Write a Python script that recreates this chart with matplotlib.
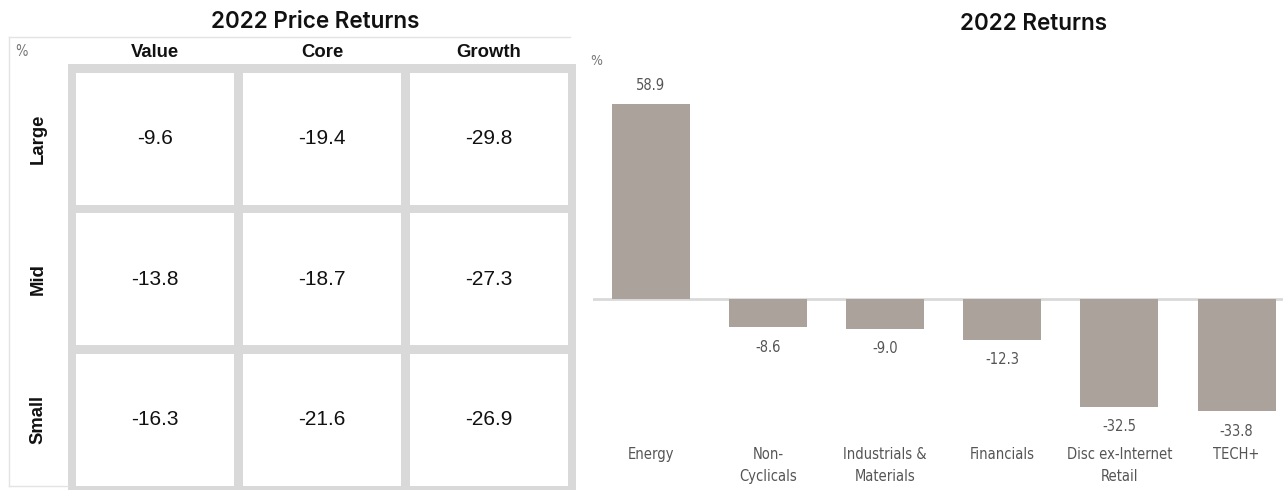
import numpy as np
import matplotlib.pyplot as plt
from matplotlib.patches import Rectangle
from matplotlib.lines import Line2D

# style box returns (rows: size, cols: style)
styles = ['Value', 'Core', 'Growth']
sizes = ['Large', 'Mid', 'Small']
box_returns = np.array([
    [-9.6, -19.4, -29.8],
    [-13.8, -18.7, -27.3],
    [-16.3, -21.6, -26.9],
])

# sector returns
sectors = ['Energy', 'Non-\nCyclicals', 'Industrials &\nMaterials', 'Financials',
           'Disc ex-Internet\nRetail', 'TECH+']
sector_returns = [58.9, -8.6, -9.0, -12.3, -32.5, -33.8]

W, H = 1283, 490
fig = plt.figure(figsize=(W / 100, H / 100), dpi=100)

def px(x0, y0, x1, y1):
    return [x0 / W, 1 - y1 / H, (x1 - x0) / W, (y1 - y0) / H]

title_font = dict(family=['Inter', 'DejaVu Sans'], fontsize=16.2, fontweight='semibold', color='#111111')
head_font = dict(family=['Liberation Sans', 'DejaVu Sans'], fontsize=13.3, fontweight='bold', color='#111111')
narrow = dict(family=['DejaVu Sans'], stretch='condensed')
grid_gray = '#d9d9d9'
bar_color = '#aba29b'
text_gray = '#555555'

# ---- left: style box ----
ax = fig.add_axes(px(68, 64, 576, 490))
ax.set_facecolor(grid_gray)
mx, my = 0.021, 0.032
g_x, g_y = 0.027, 0.032
ax.set_xlim(-mx, 3 + mx)
ax.set_ylim(3, -my)
for s in ax.spines.values():
    s.set_visible(False)
ax.set_xticks([])
ax.set_yticks([])

for i in range(len(sizes)):
    for j in range(len(styles)):
        ax.add_patch(Rectangle((j + g_x, i + g_y), 1 - 2 * g_x, 1 - 2 * g_y,
                               facecolor='white', edgecolor='none'))
        ax.text(j + 0.5, i + 0.5, f'{box_returns[i, j]:.1f}', ha='center', va='center',
                family=['Liberation Sans', 'DejaVu Sans'], fontsize=15, color='#111111')

for j, name in enumerate(styles):
    ax.text(j + 0.5, -my - 12 / 141, name, ha='center', va='center', clip_on=False, **head_font)
for i, name in enumerate(sizes):
    ax.text(-mx - 30 / 167, i + 0.5, name, ha='center', va='center', rotation=90,
            clip_on=False, **head_font)

fig.text(15 / W, 1 - 52 / H, '%', ha='left', va='center', fontsize=10.5,
         color='#777777', **narrow)
fig.text(315 / W, 1 - 22 / H, '2022 Price Returns', ha='center', va='center', **title_font)

# light outline of the table
line_kw = dict(color='#e3e3e3', lw=1, transform=fig.transFigure)
fig.add_artist(Line2D([9 / W, 570 / W], [1 - 37 / H, 1 - 37 / H], **line_kw))
fig.add_artist(Line2D([9 / W, 9 / W], [1 - 37 / H, 1 - 486 / H], **line_kw))
fig.add_artist(Line2D([9 / W, 68 / W], [1 - 486 / H, 1 - 486 / H], **line_kw))

# ---- right: sector bars ----
ax2 = fig.add_axes(px(593, 40, 1283, 440))
x = np.arange(len(sectors))
ax2.bar(x, sector_returns, width=0.666, color=bar_color, zorder=2)
ax2.axhline(0, color=grid_gray, lw=2, zorder=1)
ax2.set_xlim(-0.495, 5.397)
ax2.set_ylim(-42.6, 78.25)
for s in ax2.spines.values():
    s.set_visible(False)
ax2.set_yticks([])
ax2.set_xticks(x)
ax2.set_xticklabels(sectors, fontsize=10.5, color=text_gray,
                    linespacing=1.6, va='top', **narrow)
ax2.tick_params(axis='x', length=0, pad=5)

for xi, v in zip(x, sector_returns):
    off = 13 if v > 0 else -14.5
    ax2.annotate(f'{v:.1f}', (xi, v), xytext=(0, off), textcoords='offset points',
                 ha='center', va='center', fontsize=10.5, color=text_gray, **narrow)

fig.text(596 / W, 1 - 61 / H, '%', ha='center', va='center', fontsize=10,
         color='#777777', **narrow)
fig.text(1033 / W, 1 - 24 / H, '2022 Returns', ha='center', va='center', **title_font)

fig.savefig('out.png', dpi=100, facecolor='white')
